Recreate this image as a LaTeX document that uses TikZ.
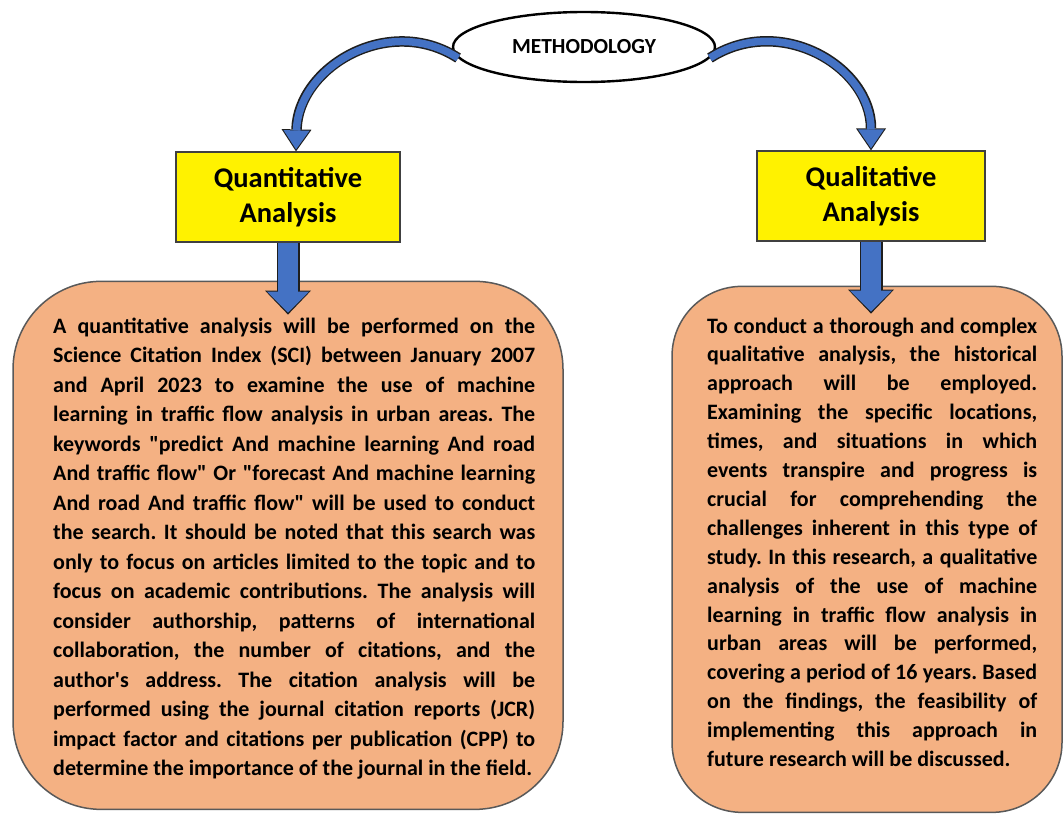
\documentclass[tikz,border=0pt]{standalone}
\usepackage{fontspec}
\setmainfont{Carlito}[Ligatures=TeXOff]
\usepackage{tikz}
\usetikzlibrary{arrows.meta,positioning,calc,shapes.geometric}
\definecolor{panelfill}{HTML}{F4B183}
\definecolor{flowblue}{HTML}{4472C4}
\definecolor{flowedge}{HTML}{1E1E1E}

\begin{document}
\begin{tikzpicture}[x=1pt,y=-1pt,
head/.style={draw=black!75,line width=1.2pt,fill=yellow,minimum height=90pt,inner sep=0pt,align=center,font=\fontsize{28.5}{35}\selectfont\bfseries},
panel/.style={draw=black!65,line width=1.5pt,fill=panelfill,rounded corners=#1,inner sep=0pt},
body/.style={inner sep=0pt,anchor=base west,align=justify},
arcout/.style={draw=flowedge,line width=10.5pt,-{Triangle[length=22pt,width=30pt,line width=0pt]}},
arcin/.style={draw=flowblue,line width=7.5pt,shorten >=2pt,-{Triangle[length=19pt,width=26pt,line width=0pt]}},
downout/.style={draw=flowedge,line width=23pt,-{Triangle[length=24pt,width=46pt,line width=0pt]}},
downin/.style={draw=flowblue,line width=20pt,shorten >=2pt,-{Triangle[length=21pt,width=42pt,line width=0pt]}}]
\useasboundingbox (0,0) rectangle (1064,814);
\node[ellipse,draw,line width=2.4pt,fill=white,minimum width=262pt,minimum height=70pt,font=\fontsize{21.5}{24}\selectfont\bfseries] (method) at (584,47) {METHODOLOGY};
\node[head,minimum width=224pt] (quant) at (288,197) {Quantitative\\Analysis};
\node[head,minimum width=228pt] (qual) at (871,196) {Qualitative\\Analysis};
\node[panel=88pt,minimum width=550pt,minimum height=528pt,below=38pt of quant] (quantbox) {};
\node[panel=70pt,minimum width=390pt,minimum height=526pt,below=44pt of qual,xshift=-4pt] (qualbox) {};
% text of the two panels
\node[body,text width=482pt,font=\fontsize{22}{29.5}\selectfont\bfseries\frenchspacing] (quanttext) at (53,333) {A quantitative analysis will be performed on the\linebreak
Science Citation Index (SCI) between January 2007\linebreak
and April 2023 to examine the use of machine\linebreak
learning in traffic flow analysis in urban areas. The\linebreak
keywords "predict And machine learning And road\linebreak
And traffic flow" Or "forecast And machine learning\linebreak
And road And traffic flow" will be used to conduct\linebreak
the search. It should be noted that this search was\linebreak
only to focus on articles limited to the topic and to\linebreak
focus on academic contributions. The analysis will\linebreak
consider authorship, patterns of international\linebreak
collaboration, the number of citations, and the\linebreak
author's address. The citation analysis will be\linebreak
performed using the journal citation reports (JCR)\linebreak
impact factor and citations per publication (CPP) to\linebreak
determine the importance of the journal in the field.};
\node[body,text width=330pt,font=\fontsize{22}{28.9}\selectfont\bfseries\frenchspacing] (qualtext) at (707,333) {To conduct a thorough and complex\linebreak
qualitative analysis, the historical\linebreak
approach will be employed.\linebreak
Examining the specific locations,\linebreak
times, and situations in which\linebreak
events transpire and progress is\linebreak
crucial for comprehending the\linebreak
challenges inherent in this type of\linebreak
study. In this research, a qualitative\linebreak
analysis of the use of machine\linebreak
learning in traffic flow analysis in\linebreak
urban areas will be performed,\linebreak
covering a period of 16 years. Based\linebreak
on the findings, the feasibility of\linebreak
implementing this approach in\linebreak
future research will be discussed.};
% arrows
\foreach \s in {arcout,arcin} {
\draw[\s] (method.185) .. controls +(-70,-45) and +(2,-84) .. ([xshift=8pt]quant.north);
\draw[\s] (method.355) .. controls +(70,-45) and +(0,-84) .. (qual.north);}
\foreach \s in {downout,downin} {
\draw[\s] (quant.south) -- ($(quant.south |- quantbox.north)+(0,34)$);
\draw[\s] (qual.south) -- ($(qual.south |- qualbox.north)+(0,28)$);}
\end{tikzpicture}
\end{document}
